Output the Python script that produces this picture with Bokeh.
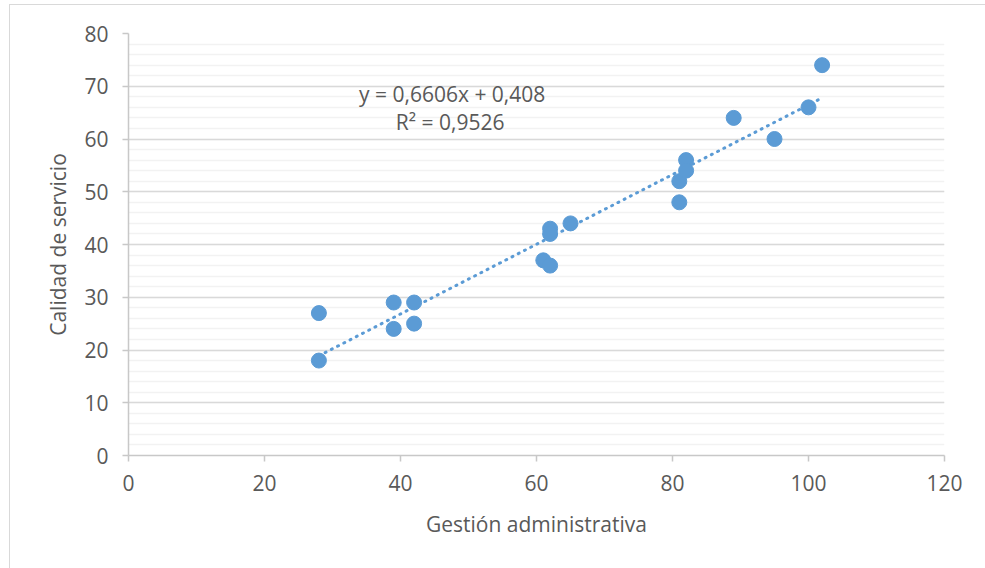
from bokeh.plotting import figure
from bokeh.models import Range1d, FixedTicker, SingleIntervalTicker, Label
from bokeh.embed import file_html
from bokeh.resources import INLINE

# Data
gestion = [28, 28, 39, 39, 42, 42, 61, 62, 62, 62, 65, 81, 81, 82, 82, 89, 95, 100, 102]
calidad = [18, 27, 29, 24, 29, 25, 37, 36, 43, 42, 44, 52, 48, 56, 54, 64, 60, 66, 74]
trend_slope = 0.6606
trend_intercept = 0.408
x_ticks = [0, 20, 40, 60, 80, 100, 120]
eq_text = "y = 0,6606x + 0,408"
r2_text = "R\u00b2 = 0,9526"

FONT = "Open Sans"
GREY = "#595959"
BLUE = "#5b9bd5"

p = figure(
    width=976, height=564,
    frame_width=816, frame_height=422,
    min_border_left=118, min_border_top=28, min_border_right=41, min_border_bottom=113,
    x_range=Range1d(0, 120), y_range=Range1d(0, 80),
    output_backend="svg", toolbar_location=None,
    background_fill_color="white", border_fill_color="white",
)
p.margin = (4, 0, 0, 9)
p.outline_line_color = None
p.styles = {"border-left": "1px solid #d9d9d9", "border-top": "1px solid #d9d9d9"}

# Grid
p.xgrid.grid_line_color = None
p.ygrid.grid_line_color = "#d9d9d9"
p.ygrid.grid_line_width = 1.5
p.ygrid.minor_grid_line_color = "#f2f2f2"
p.ygrid.minor_grid_line_width = 1.5

# Axes
p.xaxis.ticker = FixedTicker(ticks=x_ticks)
p.yaxis.ticker = SingleIntervalTicker(interval=10, num_minor_ticks=5)
p.ygrid.ticker = SingleIntervalTicker(interval=10, num_minor_ticks=5)
for ax in (p.xaxis[0], p.yaxis[0]):
    ax.axis_line_color = "#c8c8c8"
    ax.axis_line_width = 1.5
    ax.major_tick_line_color = "#c8c8c8"
    ax.major_tick_line_width = 1.5
    ax.major_tick_in = 0
    ax.major_tick_out = 6
    ax.minor_tick_in = 0
    ax.minor_tick_out = 0
    ax.major_label_text_font = FONT
    ax.major_label_text_font_size = "21px"
    ax.major_label_text_color = GREY
    ax.axis_label_text_font = FONT
    ax.axis_label_text_font_size = "21px"
    ax.axis_label_text_color = GREY
    ax.axis_label_text_font_style = "normal"

p.xaxis.axis_label = "Gesti\u00f3n administrativa"
p.yaxis.axis_label = "Calidad de servicio"
p.xaxis.major_label_standoff = 13
p.yaxis.major_label_standoff = 14
p.xaxis.axis_label_standoff = 16
p.yaxis.axis_label_standoff = 9

# Trendline
xmin, xmax = min(gestion), max(gestion)
p.line([xmin, xmax], [trend_slope * xmin + trend_intercept, trend_slope * xmax + trend_intercept],
       line_color=BLUE, line_width=3, line_dash="1 6", line_cap="round")

# Points
p.scatter(gestion, calidad, size=15, fill_color=BLUE, line_color=BLUE, line_width=1)

# Equation labels
p.add_layout(Label(x=47.6, y=68.6, text=eq_text, text_align="center", text_baseline="middle",
                   text_font=FONT, text_font_size="21px", text_color=GREY))
p.add_layout(Label(x=47.3, y=63.3, text=r2_text, text_align="center", text_baseline="middle",
                   text_font=FONT, text_font_size="21px", text_color=GREY))

open("out.html", "w").write(file_html(p, INLINE))
